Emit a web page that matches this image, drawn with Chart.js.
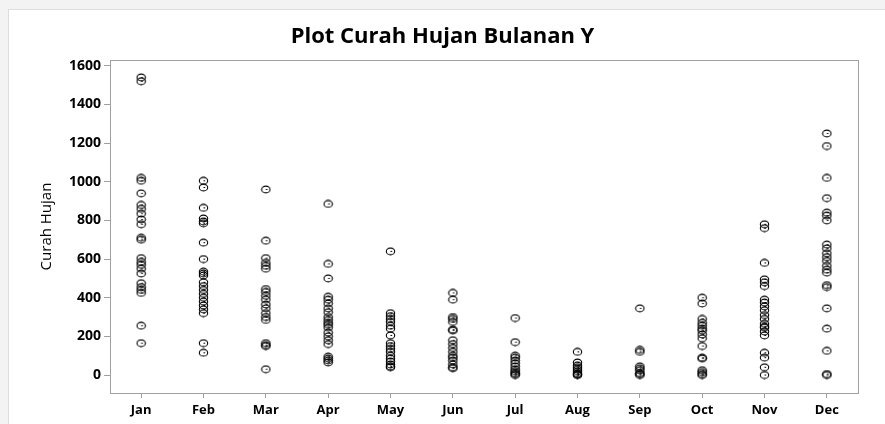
<!DOCTYPE html>
<html>
<head>
<meta charset="utf-8">
<script src="https://cdn.jsdelivr.net/npm/chart.js@4"></script>
<style>
	html, body { margin: 0; padding: 0; background: #ffffff; }
	#wrap { position: relative; width: 885px; height: 424px; }
</style>
</head>
<body>
<div id="wrap"><canvas id="rainChart" width="885" height="424"></canvas></div>
<script>
var months = ["Jan", "Feb", "Mar", "Apr", "May", "Jun", "Jul", "Aug", "Sep", "Oct", "Nov", "Dec"];

// monthly rainfall values
var jan = [1540, 1520, 1020, 1005, 940, 880, 860, 835, 805, 780, 710, 700, 605, 585, 570, 550, 525, 475, 455, 440, 425, 255, 165];
var feb = [1005, 970, 865, 810, 795, 785, 685, 600, 535, 525, 515, 480, 460, 440, 420, 400, 380, 360, 340, 320, 165, 115];
var mar = [960, 695, 605, 580, 565, 550, 445, 430, 410, 390, 365, 345, 320, 300, 285, 165, 155, 150, 30];
var apr = [885, 575, 500, 405, 390, 370, 345, 325, 300, 285, 270, 260, 245, 220, 200, 180, 160, 95, 85, 75, 65];
var may = [640, 320, 305, 290, 275, 255, 240, 205, 165, 150, 135, 120, 100, 85, 70, 55, 45, 40];
var jun = [425, 390, 300, 290, 275, 235, 230, 180, 160, 140, 120, 100, 90, 75, 55, 40, 35];
var jul = [295, 170, 100, 90, 75, 60, 45, 30, 20, 10, 5, 0];
var aug = [120, 65, 50, 40, 30, 20, 10, 5, 2, 0];
var sep = [345, 130, 120, 45, 35, 25, 10, 5, 0];
var oct = [400, 370, 290, 270, 255, 240, 230, 210, 190, 150, 90, 85, 25, 15, 5, 0];
var nov = [780, 760, 580, 495, 480, 460, 390, 375, 355, 335, 310, 290, 265, 250, 245, 225, 205, 115, 90, 40, 0];
var dec = [1250, 1185, 1020, 915, 840, 825, 800, 675, 655, 630, 610, 590, 565, 545, 530, 465, 455, 345, 240, 125, 5, 0];

var rainfall = [jan, feb, mar, apr, may, jun, jul, aug, sep, oct, nov, dec];
var yTicks = [0, 200, 400, 600, 800, 1000, 1200, 1400, 1600];

var points = [];
for (var i = 0; i < months.length; i++) {
	for (var j = 0; j < rainfall[i].length; j++) {
		points.push({ x: months[i], y: rainfall[i][j] });
	}
}

// open ellipse marker with a small dash, like the original symbol
function makeMarker() {
	var c = document.createElement("canvas");
	c.width = 11;
	c.height = 9;
	var g = c.getContext("2d");
	g.strokeStyle = "#000";
	g.lineWidth = 1.1;
	g.beginPath();
	g.ellipse(5.5, 4.5, 4.2, 3.4, 0, 0, Math.PI * 2);
	g.stroke();
	g.lineWidth = 1;
	g.beginPath();
	g.moveTo(5.5, 4.5);
	g.lineTo(7.2, 4.5);
	g.stroke();
	return c;
}

var framePlugin = {
	id: "frame",
	beforeDraw: function (chart) {
		var ctx = chart.ctx;
		ctx.save();
		ctx.fillStyle = "#f3f3f3";
		ctx.fillRect(0, 0, chart.width, chart.height);
		ctx.fillStyle = "#ffffff";
		ctx.fillRect(8, 9, chart.width, chart.height);
		ctx.strokeStyle = "#dddddd";
		ctx.lineWidth = 1;
		ctx.strokeRect(8.5, 9.5, chart.width, chart.height);
		ctx.restore();
	},
	afterDatasetsDraw: function (chart) {
		var a = chart.chartArea;
		var ctx = chart.ctx;
		ctx.save();
		ctx.strokeStyle = "#a0a0a0";
		ctx.lineWidth = 1;
		ctx.strokeRect(Math.round(a.left) + 0.5, Math.round(a.top) + 0.5, Math.round(a.right - a.left), Math.round(a.bottom - a.top));
		ctx.restore();
	}
};

var ctx = document.getElementById("rainChart").getContext("2d");
var myChart = new Chart(ctx, {
	type: "scatter",
	data: {
		labels: months,
		datasets: [
			{
				label: "Curah Hujan",
				data: points,
				pointStyle: makeMarker(),
				pointRadius: 5,
				borderColor: "#000",
				backgroundColor: "rgba(0,0,0,0)",
			},
		],
	},
	options: {
		responsive: false,
		animation: false,
		layout: {
			padding: { left: 0, right: 0, top: 0, bottom: 0 },
		},
		plugins: {
			legend: { display: false },
			tooltip: { enabled: false },
			title: {
				display: true,
				text: "Plot Curah Hujan Bulanan Y",
				color: "#000",
				font: { family: "'Open Sans'", size: 22, weight: "bold" },
				padding: { top: 24, bottom: 9.6 },
			},
		},
		scales: {
			x: {
				type: "category",
				labels: months,
				offset: true,
				border: { color: "#a0a0a0" },
				grid: { drawOnChartArea: false, drawTicks: true, tickLength: 5, color: "#a0a0a0", offset: false },
				ticks: {
					color: "#000",
					padding: 4,
					font: { family: "'Open Sans'", size: 13, weight: "bold" },
				},
				afterFit: function (scale) {
					scale.height = 31;
				},
			},
			y: {
				min: -93,
				max: 1630,
				border: { color: "#a0a0a0" },
				grid: { drawOnChartArea: false, drawTicks: true, tickLength: 6, color: "#a0a0a0" },
				ticks: {
					color: "#000",
					padding: 3,
					font: { family: "'Open Sans'", size: 14, weight: "bold" },
					callback: function (value) {
						return String(value);
					},
				},
				afterBuildTicks: function (scale) {
					scale.ticks = yTicks.map(function (v) { return { value: v }; });
				},
				title: {
					display: true,
					text: "Curah Hujan",
					color: "#000",
					font: { family: "'Open Sans'", size: 15 },
					padding: { top: 38, bottom: 0 },
				},
				afterFit: function (scale) {
					scale.width = 110;
				},
			},
			// empty right-hand strip so the title stays centred on the page
			yRight: {
				position: "right",
				display: true,
				min: -93,
				max: 1630,
				border: { display: false },
				grid: { display: false },
				ticks: { display: false },
				afterFit: function (scale) {
					scale.width = 27;
				},
			},
		},
	},
	plugins: [framePlugin],
});
</script>
</body>
</html>
